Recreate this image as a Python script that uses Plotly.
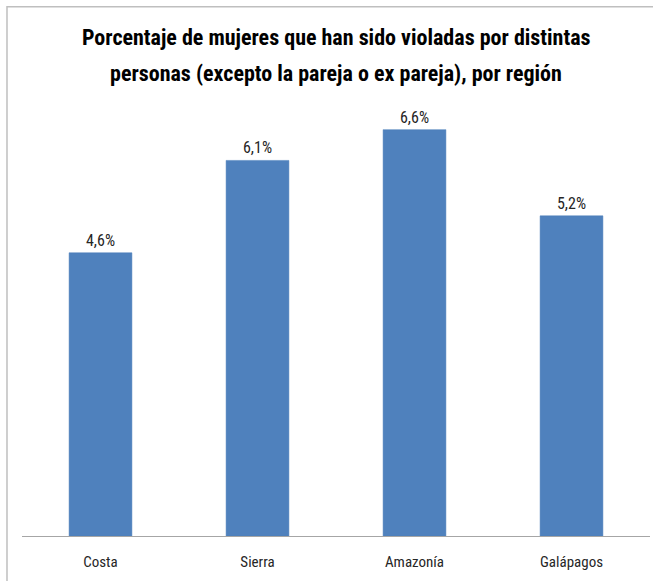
import plotly.graph_objects as go

regions = ['Costa', 'Sierra', 'Amazonía', 'Galápagos']
values = [4.6, 6.1, 6.6, 5.2]
labels = ['4,6%', '6,1%', '6,6%', '5,2%']
title_lines = ['Porcentaje de mujeres que han sido violadas por distintas',
               'personas (excepto la pareja o ex pareja), por región']

font_family = 'Liberation Sans Narrow, Roboto Condensed, Open Sans, sans-serif'

fig = go.Figure()
fig.add_trace(go.Bar(
    x=regions, y=values, text=labels, textposition='outside',
    marker=dict(color='#4F81BD', line=dict(color='#4A7EBB', width=0.5)),
    textfont=dict(size=16, color='#262626', family=font_family),
    cliponaxis=False, width=0.4,
))

# title as two annotations to control line spacing
for i, line in enumerate(title_lines):
    fig.add_annotation(
        text='<b>' + line + '</b>', xref='paper', yref='paper',
        x=0.5, y=1 + (105 - 38 - 35 * i) / 431, xanchor='center', yanchor='middle',
        showarrow=False, font=dict(size=22, color='black', family=font_family),
    )

fig.update_layout(
    width=653, height=581,
    margin=dict(l=22, r=3, t=105, b=45),
    paper_bgcolor='white', plot_bgcolor='white',
    showlegend=False,
    xaxis=dict(showline=True, linecolor='#A6A6A6', linewidth=1, ticks='',
               ticklabelstandoff=12,
               tickfont=dict(size=15, color='#262626', family=font_family)),
    yaxis=dict(range=[0, 7], visible=False, showgrid=False),
    shapes=[dict(type='rect', xref='paper', yref='paper',
                 x0=-0.0239, x1=1.02, y0=-0.2, y1=1.228,
                 line=dict(color='#BFBFBF', width=1.5))],
)

fig.write_html('out.html', config={'displayModeBar': False},
               post_script="document.body.style.margin='0';")
